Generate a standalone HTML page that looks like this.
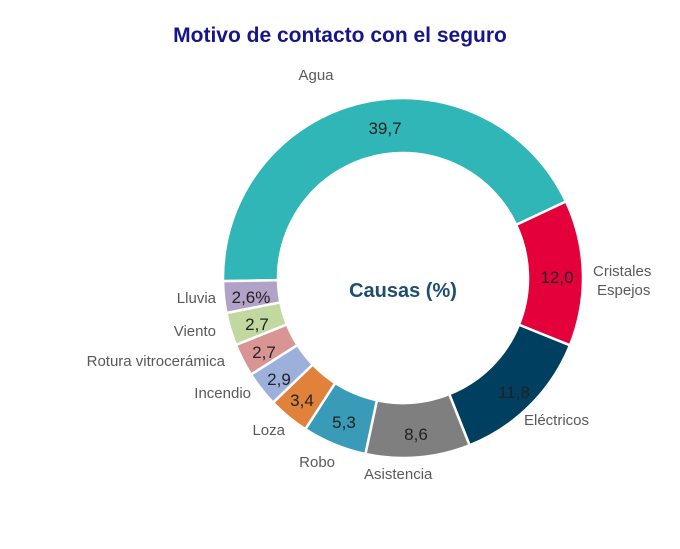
<!DOCTYPE html>
<html><head><meta charset="utf-8"><style>
body{margin:0;background:#fff;}
svg text{font-family:"Liberation Sans",sans-serif;}
</style></head><body>
<svg id="s" width="680" height="544" viewBox="0 0 680 544">
<text x="340" y="42" text-anchor="middle" font-size="21" font-weight="bold" fill="#16168a">Motivo de contacto con el seguro</text>
<g id="ring"></g>
<text x="403" y="297" text-anchor="middle" font-size="20" font-weight="bold" fill="#1f4e6e">Causas (%)</text>
<g font-size="17" fill="#222" text-anchor="middle">
<text x="385" y="134">39,7</text>
<text x="557" y="283">12,0</text>
<text x="514" y="398">11,8</text>
<text x="416" y="440">8,6</text>
<text x="344" y="428">5,3</text>
<text x="302" y="406">3,4</text>
<text x="279" y="385">2,9</text>
<text x="264" y="358">2,7</text>
<text x="257" y="330">2,7</text>
<text x="251" y="303">2,6%</text>
</g>
<g font-size="15" fill="#595959">
<text x="316" y="80" text-anchor="middle">Agua</text>
<text x="593" y="276">Cristales</text>
<text x="597" y="295">Espejos</text>
<text x="524" y="425">Eléctricos</text>
<text x="364" y="479">Asistencia</text>
<text x="335" y="467" text-anchor="end">Robo</text>
<text x="285" y="435" text-anchor="end">Loza</text>
<text x="251" y="398" text-anchor="end">Incendio</text>
<text x="225" y="366" text-anchor="end">Rotura vitrocerámica</text>
<text x="216" y="336" text-anchor="end">Viento</text>
<text x="216" y="303" text-anchor="end">Lluvia</text>
</g>
</svg>
<script>
var d=[[39.7,"#30b6b7"],[12.0,"#e4003a"],[11.8,"#003f5f"],[8.6,"#7f7f7f"],[5.3,"#3a9bb8"],[3.4,"#e0823a"],[2.9,"#9db0dc"],[2.7,"#d99594"],[2.7,"#c1d9a0"],[2.6,"#b3a2c7"]];
var tot=0;d.forEach(function(x){tot+=x[0]});
var cx=403,cy=278,ro=180,ri=125,a=269,h="";
function p(r,t){var rad=t*Math.PI/180;return (cx+r*Math.sin(rad)).toFixed(2)+","+(cy-r*Math.cos(rad)).toFixed(2);}
d.forEach(function(x){var s=x[0]/tot*360,e=a+s,l=s>180?1:0;
h+='<path d="M'+p(ro,a)+' A'+ro+','+ro+' 0 '+l+' 1 '+p(ro,e)+' L'+p(ri,e)+' A'+ri+','+ri+' 0 '+l+' 0 '+p(ri,a)+' Z" fill="'+x[1]+'" stroke="#fff" stroke-width="2.5"/>';a=e;});
document.getElementById("ring").innerHTML=h;
</script>
</body></html>
